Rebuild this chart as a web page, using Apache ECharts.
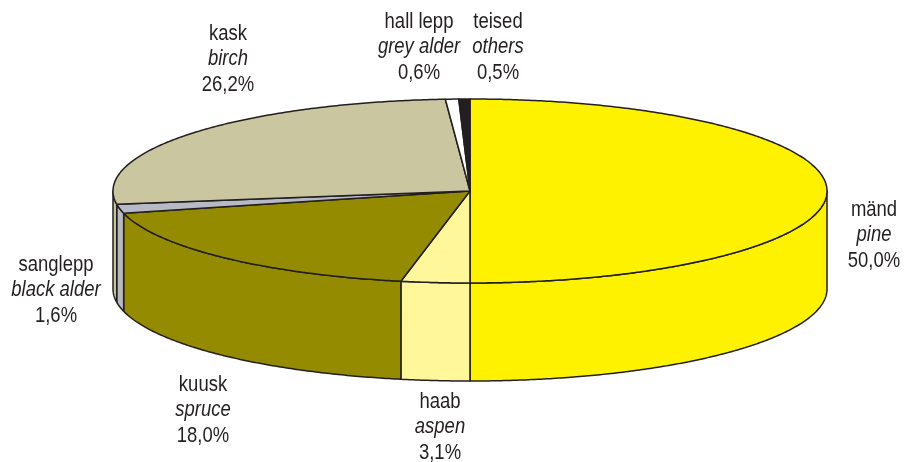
<!DOCTYPE html>
<html>
<head>
<meta charset="utf-8">
<title>Puuliigid</title>
<style>
html, body { margin: 0; padding: 0; background: #fff; }
#main { width: 905px; height: 462px; }
</style>
<script src="https://cdn.jsdelivr.net/npm/echarts@6/dist/echarts.min.js"></script>
</head>
<body>
<div id="main"></div>
<script>
// shares go clockwise from 12 o'clock
var names = ['mänd', 'haab', 'kuusk', 'sanglepp', 'kask', 'hall lepp', 'teised'];
var latin = ['pine', 'aspen', 'spruce', 'black alder', 'birch', 'grey alder', 'others'];
var values = [50.0, 3.1, 18.0, 1.6, 26.2, 0.6, 0.5];
var colors = ['#fff200', '#fff799', '#958b00', '#b7bac4', '#c9c6a0', '#ffffff', '#231f20'];
// label centres, px
var labelX = [874, 440, 203, 56, 228, 419, 498];
var labelY = [235, 427, 410, 290, 59, 47, 47];

var cx = 470, cy = 191, rx = 357, ry = 92, depth = 98;
var edge = '#231f20';
var labelFont = 'Liberation Sans';

var total = values.reduce(function(a, b) { return a + b }, 0);

function pt(deg, dy) {
	var r = deg * Math.PI / 180;
	return [cx + rx * Math.sin(r), cy - ry * Math.cos(r) + (dy || 0)];
}

function arc(a0, a1, dy) {
	var pts = [], n = Math.max(2, Math.ceil((a1 - a0) * 2));
	for (var i = 0; i <= n; i++) {
		pts.push(pt(a0 + (a1 - a0) * i / n, dy));
	}
	return pts;
}

function startAngle(idx) {
	var s = 0;
	for (var i = 0; i < idx; i++) s += values[i];
	return s / total * 360;
}

function renderSlice(params, api) {
	var idx = params.dataIndex;
	var a0 = startAngle(idx);
	var a1 = a0 + api.value(0) / total * 360;
	var children = [];
	// only the front half of the rim has a visible wall
	var w0 = Math.max(a0, 90), w1 = Math.min(a1, 270);
	if (w1 > w0) {
		children.push({
			type: 'polygon',
			shape: { points: arc(w0, w1, 0).concat(arc(w0, w1, depth).reverse()) },
			style: { fill: colors[idx], stroke: edge, lineWidth: 1.5, lineJoin: 'round' }
		});
	}
	children.push({
		type: 'polygon',
		shape: { points: [[cx, cy]].concat(arc(a0, a1, 0)) },
		style: { fill: colors[idx], stroke: edge, lineWidth: 1.5, lineJoin: 'round' }
	});
	return { type: 'group', children: children };
}

function renderLabel(params, api) {
	var idx = params.dataIndex;
	return {
		type: 'text',
		x: labelX[idx],
		y: labelY[idx],
		scaleX: 0.84, // no narrow font installed
		style: {
			text: '{n|' + names[idx] + '}\n{l|' + latin[idx] + '}\n{n|' + api.value(0).toFixed(1).replace('.', ',') + '%}',
			align: 'center',
			verticalAlign: 'middle',
			fill: '#231f20',
			rich: {
				n: { fontFamily: labelFont, fontSize: 22, lineHeight: 25.5, fill: '#231f20', align: 'center' },
				l: { fontFamily: labelFont, fontSize: 22, fontStyle: 'italic', lineHeight: 25.5, fill: '#231f20', align: 'center' }
			}
		}
	};
}

var myChart = echarts.init(document.getElementById('main'));
var seriesData = values.map(function(v, i) {
	return { name: names[i], value: [v] };
});

option = {
	animation: false,
	backgroundColor: '#fff',
	series: [{
		type: 'custom',
		coordinateSystem: 'none',
		renderItem: renderSlice,
		data: seriesData
	}, {
		type: 'custom',
		coordinateSystem: 'none',
		renderItem: renderLabel,
		data: seriesData
	}]
};

myChart.setOption(option);
</script>
</body>
</html>
